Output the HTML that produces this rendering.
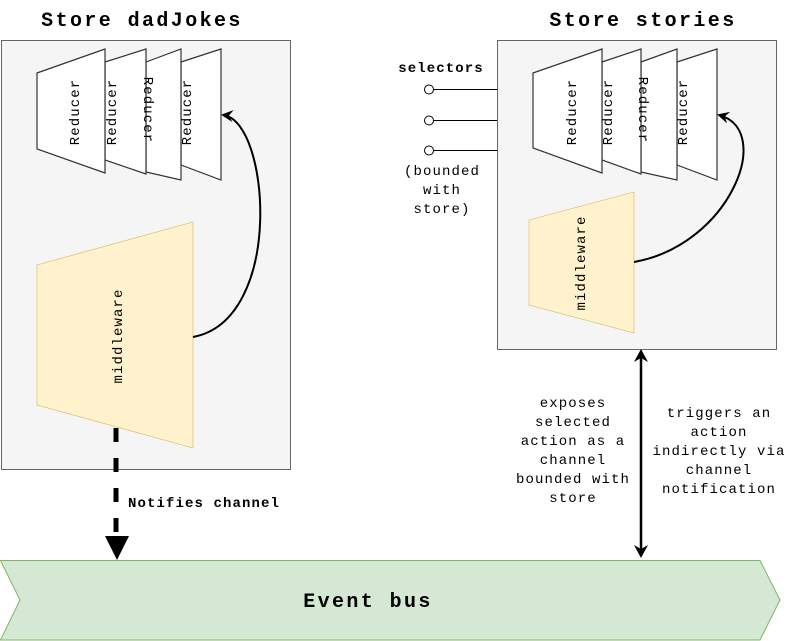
<!DOCTYPE html>
<html><head><style>body{margin:0;background:#fff}svg{display:block}text{font-family:"Liberation Mono","Courier New",monospace;letter-spacing:1.1px}</style></head><body>
<svg width="788" height="641" viewBox="0 0 788 641" xmlns="http://www.w3.org/2000/svg">
<defs><marker id="ah" markerWidth="12" markerHeight="12" refX="10" refY="6" orient="auto" markerUnits="userSpaceOnUse"><path d="M0,0 L12,6 L0,12 L4,6 Z" fill="#000"/></marker></defs>
<text x="142" y="26" font-size="20" font-weight="bold" text-anchor="middle" style="letter-spacing:2.4px">Store dadJokes</text>
<text x="643" y="26" font-size="20" font-weight="bold" text-anchor="middle" style="letter-spacing:2.4px">Store stories</text>
<rect x="1.5" y="40.5" width="289" height="429" fill="#f5f5f5" stroke="#666"/>
<rect x="497.5" y="40.5" width="279" height="309" fill="#f5f5f5" stroke="#666"/>
<g stroke="#333" stroke-width="1.2" fill="#fff">
<polygon points="181,62 221,49 221,180 181,165"/>
<polygon points="146,62 181,49 181,180 146,172"/>
<polygon points="105,62 146,49 146,174 105,160"/>
<polygon points="37,73 105,49 105,173 37,149"/>
<polygon points="677,62 717,49 717,180 677,165"/>
<polygon points="641,62 677,49 677,180 641,172"/>
<polygon points="602,62 641,49 641,174 602,160"/>
<polygon points="533,73 602,49 602,173 533,148"/>
</g>
<g font-size="14" text-anchor="middle">
<text transform="translate(75,112) rotate(-90)" dy="4">Reducer</text>
<text transform="translate(112,112) rotate(-90)" dy="4">Reducer</text>
<text transform="translate(148,110) rotate(90)" dy="4">Reducer</text>
<text transform="translate(187,112) rotate(-90)" dy="4">Reducer</text>
<text transform="translate(572,112) rotate(-90)" dy="4">Reducer</text>
<text transform="translate(608,112) rotate(-90)" dy="4">Reducer</text>
<text transform="translate(643,110) rotate(90)" dy="4">Reducer</text>
<text transform="translate(683,112) rotate(-90)" dy="4">Reducer</text>
</g>
<polygon points="37,265 193,222 193,448 37,405" fill="#fff2cc" stroke="#d6b656" stroke-width="0.6"/>
<polygon points="529,220 634,192 634,333 529,305" fill="#fff2cc" stroke="#d6b656" stroke-width="0.6"/>
<text transform="translate(118,336) rotate(-90)" dy="4" font-size="14" text-anchor="middle">middleware</text>
<text transform="translate(581,263) rotate(-90)" dy="4" font-size="14" text-anchor="middle">middleware</text>
<path d="M193,337 C285,320 270,120 223,115" fill="none" stroke="#000" stroke-width="2" marker-end="url(#ah)"/>
<path d="M634,262 C730,245 775,130 719,115" fill="none" stroke="#000" stroke-width="2" marker-end="url(#ah)"/>
<text x="441" y="72" font-size="14" font-weight="bold" text-anchor="middle">selectors</text>
<g stroke="#000" fill="#fff">
<line x1="433" y1="89.5" x2="497" y2="89.5"/><line x1="433" y1="120.5" x2="497" y2="120.5"/><line x1="433" y1="150.5" x2="497" y2="150.5"/>
<circle cx="429" cy="89.5" r="4.5"/><circle cx="429" cy="120.5" r="4.5"/><circle cx="429" cy="150.5" r="4.5"/>
</g>
<g font-size="14" text-anchor="middle">
<text x="442" y="175">(bounded</text><text x="442" y="194">with</text><text x="442" y="213">store)</text>
</g>
<line x1="116" y1="428" x2="116" y2="538" stroke="#000" stroke-width="5" stroke-dasharray="14,16"/>
<polygon points="105,536 129,536 117,560" fill="#000"/>
<text x="128" y="507" font-size="14" font-weight="bold">Notifies channel</text>
<polygon points="0.5,560.5 760,560.5 780,600 760,640 0.5,640 20,600" fill="#d5e8d4" stroke="#82b366"/>
<text x="368" y="607" font-size="20" font-weight="bold" text-anchor="middle" style="letter-spacing:2.4px">Event bus</text>
<line x1="641" y1="356" x2="641" y2="552" stroke="#000" stroke-width="2.5"/>
<polygon points="634,362 641,349 648,362 641,358" fill="#000"/>
<polygon points="634,545 641,558 648,545 641,549" fill="#000"/>
<g font-size="14" text-anchor="middle">
<text x="573" y="407">exposes</text><text x="573" y="426">selected</text><text x="573" y="445">action as a</text><text x="573" y="464">channel</text><text x="573" y="483">bounded with</text><text x="573" y="502">store</text>
<text x="719" y="417">triggers an</text><text x="719" y="436">action</text><text x="719" y="455">indirectly via</text><text x="719" y="474">channel</text><text x="719" y="493">notification</text>
</g>
</svg>
</body></html>
